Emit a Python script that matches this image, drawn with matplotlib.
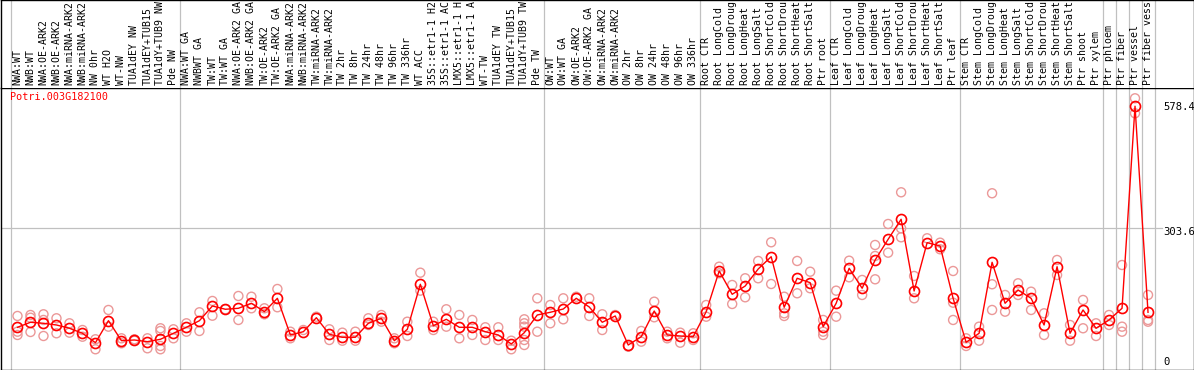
import numpy as np
import matplotlib
matplotlib.use('Agg')
import matplotlib.pyplot as plt

gene = 'Potri.003G182100'

samples = [
    # NW
    'NWA:WT', 'NWB:WT', 'NWA:OE-ARK2', 'NWB:OE-ARK2', 'NWA:miRNA-ARK2', 'NWB:miRNA-ARK2',
    'NW 0hr', 'WT H2O', 'WT-NW', 'TUA1dEY NW', 'TUA1dEY+TUB15 NW', 'TUA1dY+TUB9 NW', 'Pde NW',
    # TW
    'NWA:WT GA', 'NWBWT GA', 'TW:WT', 'TW:WT GA', 'NWA:OE-ARK2 GA', 'NWB:OE-ARK2 GA',
    'TW:OE-ARK2', 'TW:OE-ARK2 GA', 'NWA:miRNA-ARK2', 'NWB:miRNA-ARK2', 'TW:miRNA-ARK2',
    'TW:miRNA-ARK2', 'TW 2hr', 'TW 8hr', 'TW 24hr', 'TW 48hr', 'TW 96hr', 'TW 336hr',
    'WT ACC', '35S::etr1-1 H2O', '35S::etr1-1 ACC', 'LMX5::etr1-1 H2O', 'LMX5::etr1-1 ACC',
    'WT-TW', 'TUA1dEY TW', 'TUA1dEY+TUB15 TW', 'TUA1dY+TUB9 TW', 'Pde TW',
    # OW
    'OW:WT', 'OW:WT GA', 'OW:OE-ARK2', 'OW:OE-ARK2 GA', 'OW:miRNA-ARK2', 'OW:miRNA-ARK2',
    'OW 2hr', 'OW 8hr', 'OW 24hr', 'OW 48hr', 'OW 96hr', 'OW 336hr',
    # root
    'Root CTR', 'Root LongCold', 'Root LongDrought', 'Root LongHeat', 'Root LongSalt',
    'Root ShortCold', 'Root ShortDrought', 'Root ShortHeat', 'Root ShortSalt', 'Ptr root',
    # leaf
    'Leaf CTR', 'Leaf LongCold', 'Leaf LongDrought', 'Leaf LongHeat', 'Leaf LongSalt',
    'Leaf ShortCold', 'Leaf ShortDrought', 'Leaf ShortHeat', 'Leaf ShortSalt', 'Ptr leaf',
    # stem
    'Stem CTR', 'Stem LongCold', 'Stem LongDrought', 'Stem LongHeat', 'Stem LongSalt',
    'Stem ShortCold', 'Stem ShortDrought', 'Stem ShortHeat', 'Stem ShortSalt', 'Ptr shoot',
    'Ptr xylem',
    'Ptr phloem', 'Ptr fiber', 'Ptr vessel', 'Ptr fiber vessel',
]
group_sizes = [13, 28, 12, 10, 10, 11, 1, 1, 1, 1]

means = [80.4, 91.7, 89.4, 85.6, 78.2, 66.9, 45.7, 95.3, 50.2, 51.8, 48.0, 53.4, 66.9,
         80.4, 95.3, 128.4, 121.0, 123.2, 134.5, 115.6, 145.7, 63.1, 70.5, 102.0, 64.6,
         57.9, 57.9, 89.4, 100.7, 50.2, 75.9, 177.3, 84.0, 98.4, 80.4, 80.4, 70.5, 63.1,
         42.8, 68.3, 108.1,
         114.2, 121.6, 145.7, 126.1, 91.7, 105.9, 40.5, 59.2, 117.1, 63.1, 60.8, 59.2,
         115.6, 207.2, 154.7, 173.4, 211.7, 239.4, 125.5, 190.8, 180.9, 81.8,
         134.5, 213.3, 168.3, 232.0, 278.6, 323.7, 162.2, 271.0, 263.5, 145.7,
         46.6, 66.9, 226.8, 134.5, 164.4, 145.7, 85.6, 216.9, 66.9, 119.4, 78.2,
         96.9, 123.2, 578.4, 114.2]

reps = [
    [105.9, 70.5, 63.1], [108.1, 102.0, 69.8], [109.7, 96.9, 60.8], [100.7, 66.9],
    [89.4, 68.3], [74.3, 59.2], [53.4, 30.9], [119.4, 81.8], [55.6, 44.4], [53.4, 50.2],
    [55.6, 33.1], [78.2, 72.1, 38.3, 30.9], [75.9, 55.6],
    [89.4, 70.5], [114.2, 72.1], [139.7, 106.5], [121.0], [150.9, 96.9], [149.3, 123.2],
    [123.2, 109.7], [166.7, 125.5], [70.5, 55.6], [74.3], [104.3], [75.9, 51.8],
    [68.3, 50.2], [70.5, 50.2], [100.7, 85.6], [108.1, 93.0], [55.6, 44.4], [93.0, 60.8],
    [203.4, 162.9], [93.0, 74.3], [121.0, 81.8], [108.1, 55.6], [96.9, 63.1], [80.4, 51.8],
    [80.4, 51.8], [50.2, 30.9], [98.4, 89.4, 81.8, 51.8, 40.5], [145.7, 70.5],
    [130.6, 89.4], [145.7, 98.4], [149.3], [145.7, 105.9], [109.7, 74.3], [108.1], [36.7],
    [72.1, 48.0], [138.1, 102.9], [70.5, 55.6], [68.3, 45.7], [66.9, 51.8],
    [130.6, 104.3], [216.9, 202.0], [175.7, 132.9], [190.8, 148.0], [229.8, 190.8],
    [271.9, 177.9], [149.3, 111.9, 105.9], [229.8, 157.0], [205.6, 168.3], [96.9, 70.5, 63.1],
    [162.9, 104.3], [230.4, 193.0], [187.0, 153.2], [265.8, 241.0, 188.5], [313.1, 248.5],
    [384.5, 303.4, 283.1], [196.0, 145.7], [280.9], [271.0, 256.1], [207.2, 135.8, 96.9],
    [55.6, 38.3], [81.8, 50.2], [382.3, 177.3, 119.4], [153.2, 115.6], [179.5, 153.2],
    [160.6, 119.4], [111.9, 63.1], [232.0, 198.2], [85.6, 50.2], [141.9, 78.2],
    [89.4, 60.8], [108.1, 85.6], [220.7, 81.8, 70.5], [596.2, 562.4], [153.2, 96.9, 93.0],
]

W, H = 1194, 370
HEAD = 88  # height of the label strip in pixels
MAXCH = 14  # the header only has room for 14 characters

fig = plt.figure(figsize=(W / 100, H / 100), dpi=100)
ax = fig.add_axes([1 / W, 0, (W - 1.5) / W, (H - HEAD) / H])
hx = fig.add_axes([1 / W, (H - HEAD) / H, (W - 1.5) / W, HEAD / H], sharex=ax)

x = np.arange(len(samples))
# column i sits at pixel 17.5 + 13*i
ax.set_xlim((1 - 17.5) / 13, (W - 17.5) / 13)
ax.set_ylim(-15.8, 619.4)
hx.set_ylim(0, 1)

# group separators
bounds = np.cumsum([0] + group_sizes) - 0.5
for b in bounds:
    ax.axvline(b, color='#c0c0c0', lw=0.9, zorder=1)
    hx.axvline(b, color='#c0c0c0', lw=0.9, zorder=1)
ax.axhline(303.6, xmax=0.974, color='#c0c0c0', lw=0.9, zorder=1)

# replicates
rx = [i for i, r in enumerate(reps) for _ in r]
ry = [v for r in reps for v in r]
ax.scatter(rx, ry, s=6.5 ** 2, facecolors='none', edgecolors='#eb9898', linewidths=1.0, zorder=2)

# means
ax.plot(x, means, '-', color='red', lw=1.0, zorder=3)
ax.plot(x, means, 'o', mfc='none', mec='red', ms=7.2, mew=1.2, zorder=4)

mono = ['DejaVu Sans Mono']
ax.text(9 / W, (H - 97) / (H - HEAD), gene, color='red', fontsize=7.3, family=mono,
        transform=ax.transAxes, va='center', ha='left')

# value labels on the right
tr = ax.get_yaxis_transform()
for v, lab in [(576.6, '578.4'), (295.0, '303.6'), (2.3, '0')]:
    ax.text(0.9745, v, lab, fontsize=7.6, family=mono, transform=tr, va='center', ha='left')

# sample names, cut to what fits in the strip
for i, s in enumerate(samples):
    hx.text(i, 3 / HEAD, s[:MAXCH].rstrip(), rotation=90, fontsize=7.1, family=mono,
            ha='center', va='bottom')

for a in (ax, hx):
    a.set_xticks([])
    a.set_yticks([])
    for sp in a.spines.values():
        sp.set_linewidth(1.0)
        sp.set_color('black')
hx.spines['bottom'].set_visible(False)

fig.savefig('out.png', dpi=100)
